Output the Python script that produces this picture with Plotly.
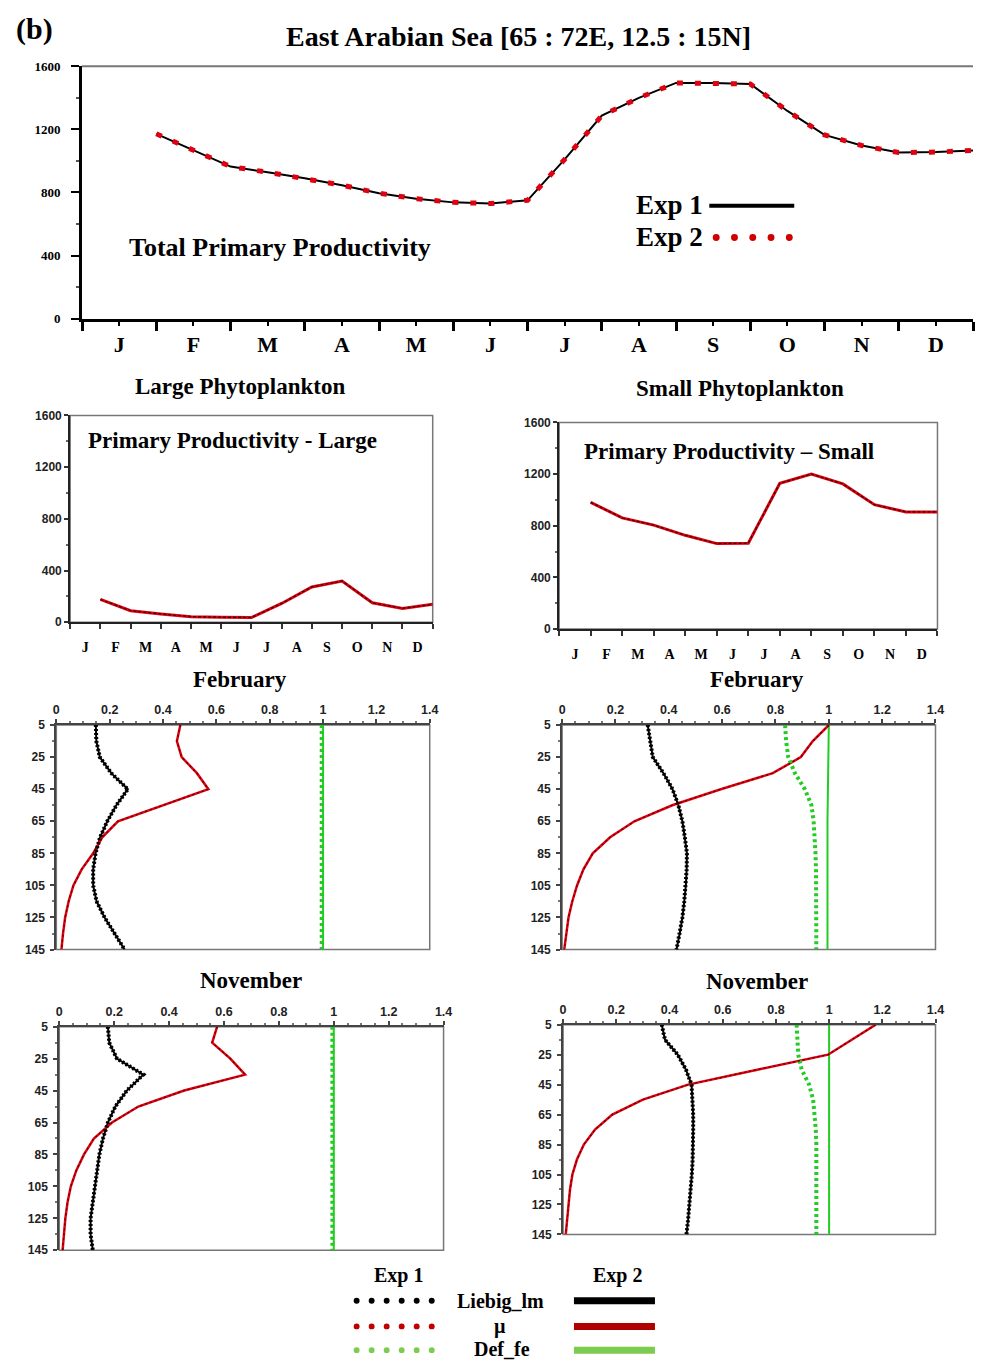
import plotly.graph_objects as go

W, H = 985, 1370
SERIF = "Liberation Serif"
SANS = "Liberation Sans"


def px(x):
    return x / W


def py(y):
    return 1 - y / H


# ---------------- data ----------------
month_labels = ["J", "F", "M", "A", "M", "J", "J", "A", "S", "O", "N", "D"]
month_centers = [0.5, 1.5, 2.5, 3.5, 4.5, 5.5, 6.5, 7.5, 8.5, 9.5, 10.5, 11.5]

total_time = [1.0, 1.5, 2.0, 2.5, 3.0, 3.5, 4.0, 4.5, 5.0, 5.5, 6.0, 6.5,
              7.0, 7.5, 8.0, 8.5, 9.0, 9.5, 10.0, 10.5, 11.0, 11.5, 12.0]
total_pp_exp1 = [1172, 1068, 964, 928, 890, 846, 795, 760, 737, 730, 750, 1010,
                 1287, 1400, 1495, 1494, 1488, 1317, 1165, 1098, 1053, 1056, 1066]
total_pp_exp2 = [1172, 1068, 964, 928, 890, 846, 795, 760, 737, 730, 750, 1010,
                 1287, 1400, 1495, 1494, 1488, 1317, 1165, 1098, 1053, 1056, 1066]

month_index = [1, 2, 3, 4, 5, 6, 7, 8, 9, 10, 11, 12]
large_pp_exp1 = [176, 89, 64, 43, 38, 36, 145, 273, 319, 150, 107, 138]
large_pp_exp2 = [176, 89, 64, 43, 38, 36, 145, 273, 319, 150, 107, 138]
small_pp_exp1 = [981, 861, 805, 726, 662, 665, 1129, 1200, 1124, 963, 907, 907]
small_pp_exp2 = [981, 861, 805, 726, 662, 665, 1129, 1200, 1124, 963, 907, 907]

depth = [5, 15, 25, 35, 45, 55, 65, 75, 85, 95, 105, 115, 125, 135, 145]
depth_ticks = [5, 25, 45, 65, 85, 105, 125, 145]

# February, large phytoplankton
feb_l_liebig = [0.148, 0.150, 0.163, 0.206, 0.268, 0.225, 0.191, 0.164, 0.147, 0.138, 0.138, 0.151, 0.181, 0.219, 0.256]
feb_l_mu = [0.465, 0.452, 0.470, 0.527, 0.570, 0.400, 0.231, 0.172, 0.138, 0.095, 0.064, 0.046, 0.033, 0.025, 0.019]
feb_l_deffe_exp1 = [0.995, 0.995, 0.995, 0.995, 0.995, 0.995, 0.995, 0.995, 0.995, 0.995, 0.995, 0.995, 0.995, 0.995, 0.995]
feb_l_deffe_exp2 = [1.0, 1.0, 1.0, 1.0, 1.0, 1.0, 1.0, 1.0, 1.0, 1.0, 1.0, 1.0, 1.0, 1.0, 1.0]
# February, small phytoplankton
feb_s_liebig = [0.321, 0.330, 0.340, 0.380, 0.414, 0.436, 0.451, 0.460, 0.468, 0.467, 0.464, 0.458, 0.451, 0.441, 0.429]
feb_s_mu = [1.000, 0.940, 0.895, 0.790, 0.595, 0.413, 0.271, 0.180, 0.115, 0.080, 0.056, 0.038, 0.024, 0.016, 0.008]
feb_s_deffe_exp1 = [0.836, 0.840, 0.848, 0.873, 0.910, 0.935, 0.943, 0.948, 0.950, 0.952, 0.953, 0.953, 0.953, 0.953, 0.953]
feb_s_deffe_exp2 = [1.000, 0.999, 0.998, 0.996, 0.995, 0.995, 0.995, 0.995, 0.995, 0.995, 0.995, 0.995, 0.995, 0.995, 0.995]
# November, large phytoplankton
nov_l_liebig = [0.177, 0.182, 0.210, 0.306, 0.246, 0.204, 0.177, 0.159, 0.146, 0.138, 0.129, 0.120, 0.114, 0.114, 0.122]
nov_l_mu = [0.575, 0.557, 0.623, 0.677, 0.455, 0.288, 0.192, 0.126, 0.090, 0.062, 0.042, 0.030, 0.022, 0.016, 0.012]
nov_l_deffe_exp1 = [0.995, 0.995, 0.995, 0.995, 0.995, 0.995, 0.995, 0.995, 0.995, 0.995, 0.995, 0.995, 0.995, 0.995, 0.995]
nov_l_deffe_exp2 = [1.0, 1.0, 1.0, 1.0, 1.0, 1.0, 1.0, 1.0, 1.0, 1.0, 1.0, 1.0, 1.0, 1.0, 1.0]
# November, small phytoplankton
nov_s_liebig = [0.371, 0.383, 0.431, 0.462, 0.483, 0.487, 0.489, 0.489, 0.489, 0.487, 0.484, 0.480, 0.476, 0.470, 0.464]
nov_s_mu = [1.175, 1.088, 0.996, 0.730, 0.470, 0.300, 0.185, 0.120, 0.078, 0.052, 0.035, 0.026, 0.020, 0.014, 0.010]
nov_s_deffe_exp1 = [0.878, 0.882, 0.884, 0.897, 0.925, 0.940, 0.946, 0.950, 0.952, 0.952, 0.952, 0.952, 0.952, 0.952, 0.952]
nov_s_deffe_exp2 = [1.0, 1.0, 1.0, 1.0, 1.0, 1.0, 1.0, 1.0, 1.0, 1.0, 1.0, 1.0, 1.0, 1.0, 1.0]

profile_ticks = [0, 0.2, 0.4, 0.6, 0.8, 1.0, 1.2, 1.4]
profile_ticktext = ["0", "0.2", "0.4", "0.6", "0.8", "1", "1.2", "1.4"]

RED = "#e00010"
GREEN = "#22cc22"
LGREEN = "#7ccc50"

fig = go.Figure()

# ---------------- top: total primary productivity ----------------
fig.add_trace(go.Scatter(x=total_time, y=total_pp_exp1, mode="lines",
                         line=dict(color="black", width=2), xaxis="x", yaxis="y"))
fig.add_trace(go.Scatter(x=total_time, y=total_pp_exp2, mode="lines",
                         line=dict(color=RED, width=5, dash="6px,12px"), xaxis="x", yaxis="y"))

# ---------------- middle: large / small ----------------
for xa, ya, v1, v2 in [("x2", "y2", large_pp_exp1, large_pp_exp2),
                       ("x3", "y3", small_pp_exp1, small_pp_exp2)]:
    fig.add_trace(go.Scatter(x=month_index, y=v2, mode="lines",
                             line=dict(color=RED, width=3), xaxis=xa, yaxis=ya))
    fig.add_trace(go.Scatter(x=month_index, y=v1, mode="lines",
                             line=dict(color="#300000", width=1.2, dash="3px,2px"), xaxis=xa, yaxis=ya))

# ---------------- profiles ----------------
panels = [
    ("x4", "y4", feb_l_liebig, feb_l_mu, feb_l_deffe_exp1, feb_l_deffe_exp2),
    ("x5", "y5", feb_s_liebig, feb_s_mu, feb_s_deffe_exp1, feb_s_deffe_exp2),
    ("x6", "y6", nov_l_liebig, nov_l_mu, nov_l_deffe_exp1, nov_l_deffe_exp2),
    ("x7", "y7", nov_s_liebig, nov_s_mu, nov_s_deffe_exp1, nov_s_deffe_exp2),
]
for xa, ya, lie, mu, d1, d2 in panels:
    # Exp 2 solid
    fig.add_trace(go.Scatter(x=d2, y=depth, mode="lines", line=dict(color=GREEN, width=2),
                             xaxis=xa, yaxis=ya))
    fig.add_trace(go.Scatter(x=lie, y=depth, mode="lines", line=dict(color="black", width=2),
                             xaxis=xa, yaxis=ya))
    fig.add_trace(go.Scatter(x=mu, y=depth, mode="lines", line=dict(color=RED, width=2.5),
                             xaxis=xa, yaxis=ya))
    # Exp 1 dotted
    fig.add_trace(go.Scatter(x=d1, y=depth, mode="lines", line=dict(color=GREEN, width=4, dash="3px,3px"),
                             xaxis=xa, yaxis=ya))
    fig.add_trace(go.Scatter(x=lie, y=depth, mode="lines", line=dict(color="black", width=4, dash="2px,2px"),
                             xaxis=xa, yaxis=ya))
    fig.add_trace(go.Scatter(x=mu, y=depth, mode="lines", line=dict(color="#500000", width=1.2, dash="2px,3px"),
                             xaxis=xa, yaxis=ya))

# ---------------- axes ----------------
layout = dict(
    width=W, height=H, margin=dict(l=0, r=0, t=0, b=0), autosize=False,
    plot_bgcolor="white", paper_bgcolor="white", showlegend=False,
)

# top chart
layout["xaxis"] = dict(domain=[px(80), px(982)], range=[0, 12], anchor="y",
                       tickmode="array", tickvals=month_centers, ticktext=month_labels,
                       ticks="outside", ticklen=4, tickwidth=2, tickcolor="black",
                       ticklabelstandoff=0,
                       tickfont=dict(family=SERIF, size=22, color="black", weight="bold"),
                       minor=dict(tickmode="linear", tick0=0, dtick=1, ticks="outside", ticklen=9,
                                  tickwidth=3, tickcolor="black"),
                       showline=True, linecolor="black", linewidth=3, showgrid=False, zeroline=False,
                       fixedrange=True)
layout["yaxis"] = dict(domain=[py(315), py(60)], range=[0, 1600], anchor="x",
                       tickmode="array", tickvals=[0, 400, 800, 1200, 1600],
                       ticks="outside", ticklen=8, tickwidth=2, tickcolor="black",
                       ticklabelstandoff=8,
                       tickfont=dict(family=SERIF, size=13, color="black", weight="bold"),
                       minor=dict(tickmode="linear", tick0=0, dtick=200, ticks="outside", ticklen=3,
                                  tickcolor="#555"),
                       showline=True, linecolor="black", linewidth=3, showgrid=False, zeroline=False)

mid_boxes = {"2": (68, 435, 413, 622), "3": (563, 946, 420, 629)}
for k, (x0, x1, y0, y1) in mid_boxes.items():
    layout["xaxis" + k] = dict(domain=[px(x0), px(x1)], range=[0, 12], anchor="y" + k,
                               tickmode="array", tickvals=month_centers, ticktext=month_labels,
                               ticks="outside", ticklen=0, tickcolor="#333",
                               ticklabelstandoff=11,
                               tickfont=dict(family=SERIF, size=14, color="black", weight="bold"),
                               minor=dict(tickmode="linear", tick0=0, dtick=1, ticks="outside", ticklen=5,
                                          tickwidth=2, tickcolor="#333"),
                               showline=True, linecolor="#222", linewidth=2, showgrid=False, zeroline=False)
    layout["yaxis" + k] = dict(domain=[py(y1), py(y0)], range=[0, 1600], anchor="x" + k,
                               tickmode="array", tickvals=[0, 400, 800, 1200, 1600],
                               ticks="outside", ticklen=4, tickwidth=1.5, tickcolor="#333",
                               tickfont=dict(family=SANS, size=12, color="#222", weight="bold"),
                               minor=dict(tickmode="linear", tick0=0, dtick=200, ticks="outside", ticklen=2,
                                          tickcolor="#666"),
                               showline=True, linecolor="#222", linewidth=2, showgrid=False, zeroline=False)

prof_boxes = {"4": (54, 432, 726, 953), "5": (566, 944, 726, 953),
              "6": (57, 446, 1031, 1257), "7": (567, 944, 1029, 1241)}
for k, (x0, x1, y0, y1) in prof_boxes.items():
    layout["xaxis" + k] = dict(domain=[px(x0), px(x1)], range=[0, 1.4], anchor="y" + k, side="top",
                               tickmode="array", tickvals=profile_ticks, ticktext=profile_ticktext,
                               ticks="outside", ticklen=4, tickwidth=1.5, tickcolor="#444",
                               tickfont=dict(family=SANS, size=12.5, color="#222", weight="bold"),
                               minor=dict(tickmode="linear", tick0=0, dtick=0.05, ticks="outside", ticklen=2,
                                          tickcolor="#777"),
                               showline=True, linecolor="#444", linewidth=2, showgrid=False, zeroline=False)
    layout["yaxis" + k] = dict(domain=[py(y1), py(y0)], range=[145, 5], anchor="x" + k,
                               tickmode="array", tickvals=depth_ticks,
                               ticks="outside", ticklen=4, tickwidth=1.5, tickcolor="#444",
                               ticklabelstandoff=3,
                               tickfont=dict(family=SANS, size=12, color="#222", weight="bold"),
                               minor=dict(tickmode="linear", tick0=5, dtick=10, ticks="outside", ticklen=2,
                                          tickcolor="#777"),
                               showline=True, linecolor="#444", linewidth=2, showgrid=False, zeroline=False)

fig.update_layout(**layout)

# ---------------- frames ----------------
shapes = []
shapes.append(dict(type="line", xref="x domain", yref="y domain", x0=0, x1=1, y0=1, y1=1,
                   line=dict(color="#777", width=2), layer="below"))
for k in ["2", "3", "4", "5", "6", "7"]:
    shapes.append(dict(type="rect", xref="x%s domain" % k, yref="y%s domain" % k,
                       x0=0, x1=1, y0=0, y1=1, line=dict(color="#777", width=1.5), layer="below"))

# top-chart legend keys
shapes.append(dict(type="line", xref="paper", yref="paper", x0=px(715), x1=px(801), y0=py(201), y1=py(201),
                   line=dict(color="black", width=4)))
for i in range(5):
    cx = 722 + i * 18.5
    shapes.append(dict(type="circle", xref="paper", yref="paper", x0=px(cx - 3.5), x1=px(cx + 3.5),
                       y0=py(233 + 3.5), y1=py(233 - 3.5), fillcolor="#d00000", line=dict(width=0)))

# bottom legend keys
leg_rows = [(1308, "black", "black"), (1334, "#c00000", "#b00000"), (1358, LGREEN, LGREEN)]
for yy, dot_col, line_col in leg_rows:
    for i in range(6):
        cx = 358 + i * 15.2
        shapes.append(dict(type="circle", xref="paper", yref="paper", x0=px(cx - 3), x1=px(cx + 3),
                           y0=py(yy + 3), y1=py(yy - 3), fillcolor=dot_col, line=dict(width=0)))
    shapes.append(dict(type="line", xref="paper", yref="paper", x0=px(578), x1=px(660), y0=py(yy), y1=py(yy),
                       line=dict(color=line_col, width=7)))

fig.update_layout(shapes=shapes)

# ---------------- text ----------------
def ann(text, x, y, size, xanchor="center", family=SERIF):
    return dict(text=text, x=px(x), y=py(y), xref="paper", yref="paper", showarrow=False,
                xanchor=xanchor, yanchor="middle",
                font=dict(family=family, size=size, color="black", weight="bold"))


annotations = [
    ann("(b)", 32, 22, 30),
    ann("East Arabian Sea [65 : 72E, 12.5 : 15N]", 522, 30, 28),
    ann("Total Primary Productivity", 126, 243, 26, "left"),
    ann("Exp 1", 639, 200, 27, "left"),
    ann("Exp 2", 639, 233, 27, "left"),
    ann("Large Phytoplankton", 240, 384, 23),
    ann("Small Phytoplankton", 746, 386, 23),
    ann("Primary Productivity - Large", 84, 438, 23, "left"),
    ann("Primary Productivity \u2013 Small", 586, 449, 23, "left"),
    ann("February", 240, 680, 23),
    ann("February", 763, 680, 23),
    ann("November", 251, 984, 23),
    ann("November", 763, 985, 23),
    ann("Exp 1", 400, 1283, 20),
    ann("Exp 2", 622, 1283, 20),
    ann("Liebig_lm", 504, 1309, 20),
    ann("\u00b5", 503, 1334, 20),
    ann("Def_fe", 505, 1357, 20),
]
fig.update_layout(annotations=annotations)

page_css = ("var s=document.createElement('style');"
            "s.innerHTML='html,body{margin:0 !important;padding:0 !important;overflow:hidden !important;}';"
            "document.head.appendChild(s);")
fig.write_html("out.html", post_script=page_css)
